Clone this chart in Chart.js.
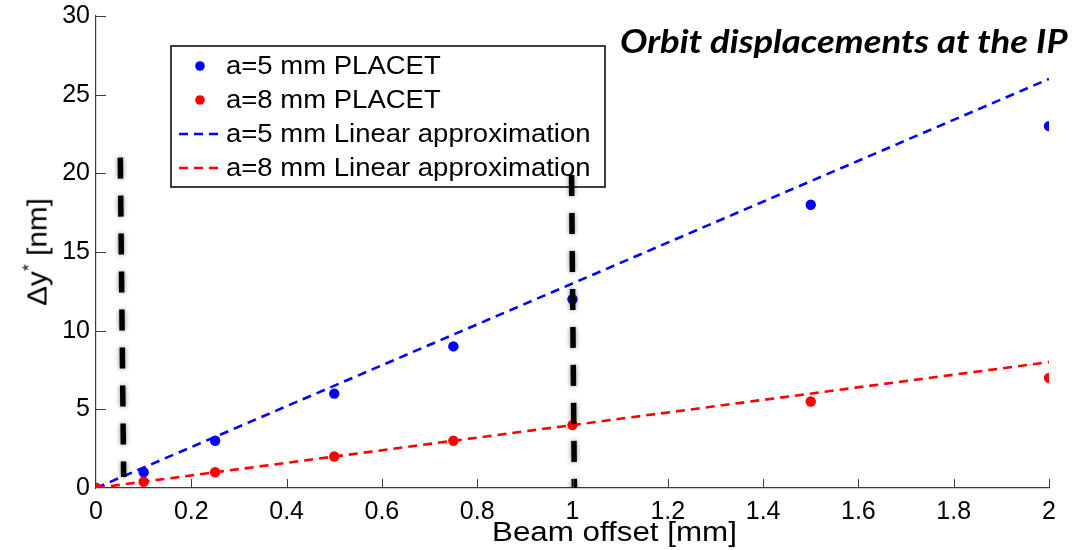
<!DOCTYPE html>
<html>
<head>
<meta charset="utf-8">
<script src="https://cdn.jsdelivr.net/npm/chart.js@4.4.1/dist/chart.umd.min.js"></script>
<style>
  html, body { margin: 0; padding: 0; background: #fff; }
  #wrap { position: relative; width: 1086px; height: 550px; font-family: 'Liberation Sans', Arial, sans-serif; color: #000; }
  #chart { position: absolute; left: 0; top: 0; }
  .plot-title { position: absolute; left: 620px; top: 21px; font: italic 700 32px Lato, 'Open Sans', sans-serif; white-space: nowrap; transform-origin: 0 0; transform: scaleX(1.14); }
  .x-title { position: absolute; left: 492px; top: 519px; font-size: 27px; line-height: 1; white-space: nowrap; transform-origin: 0 0; transform: scaleX(1.16); }
  .y-title { position: absolute; left: 38px; top: 252px; transform: translate(-50%, -50%) rotate(-90deg) scaleX(1.1); font-size: 27px; line-height: 1; white-space: nowrap; }
  .y-title sup { font-size: 60%; vertical-align: 0.75em; line-height: 0; }
</style>
</head>
<body>
<div id="wrap">
  <canvas id="chart" width="1086" height="550"></canvas>
  <div class="plot-title">Orbit displacements at the IP</div>
  <div class="x-title">Beam offset [mm]</div>
  <div class="y-title">Δy<sup>*</sup> [nm]</div>
</div>
<script>
// beam offset [mm] and vertical orbit shift at the IP [nm]
const offsets = [0, 0.1, 0.25, 0.5, 0.75, 1, 1.5, 2];
const placetA5 = [0, 1, 3, 6, 9, 12, 18, 23];
const placetA8 = [0, 0.4, 1, 2, 3, 4, 5.5, 7];

// linear approximation end points
const fitX = [0, 2];
const fitA5 = [0, 26];
const fitA8 = [0, 8];

// hand-drawn markers (vertical dashed guides)
const guide1X = [0.051, 0.058];
const guide1Y = [21, 0.7];
const guide2X = [0.998, 1.004];
const guide2Y = [19.9, -0.2];

const legendLabels = [
  'a=5 mm PLACET',
  'a=8 mm PLACET',
  'a=5 mm Linear approximation',
  'a=8 mm Linear approximation'
];

const BLUE = '#0000ff';
const RED = '#ff0000';
const AXIS = '#3a3a3a';
const FONT = "'Liberation Sans', Arial, sans-serif";

function pairs(xs, ys) {
  return xs.map((x, i) => ({ x, y: ys[i] }));
}

function guide(xs, ys) {
  return {
    type: 'line',
    data: pairs(xs, ys),
    borderColor: '#000',
    borderWidth: 5.5,
    borderDash: [21, 17],
    pointRadius: 0,
    showLine: true,
    shadow: true
  };
}

function fitLine(ys, color) {
  return {
    type: 'line',
    data: pairs(fitX, ys),
    borderColor: color,
    borderWidth: 2.6,
    borderDash: [9, 6],
    pointRadius: 0,
    showLine: true
  };
}

function markers(ys, color) {
  return {
    type: 'scatter',
    data: pairs(offsets, ys),
    backgroundColor: color,
    borderColor: color,
    borderWidth: 0,
    pointRadius: 5.2
  };
}

// soft halo under the thick guides
const shadowPlugin = {
  id: 'guideShadow',
  beforeDatasetDraw(chart, args) {
    if (!args.meta._dataset.shadow) return;
    const ctx = chart.ctx;
    ctx.save();
    ctx.shadowColor = 'rgba(0,0,0,0.45)';
    ctx.shadowBlur = 5;
  },
  afterDatasetDraw(chart, args) {
    if (!args.meta._dataset.shadow) return;
    chart.ctx.restore();
  }
};

// inward tick marks on both axes
const innerTicks = {
  id: 'innerTicks',
  afterDraw(chart) {
    const { ctx, chartArea: a, scales: { x, y } } = chart;
    ctx.save();
    ctx.strokeStyle = AXIS;
    ctx.lineWidth = 1;
    ctx.beginPath();
    x.ticks.forEach((t) => {
      const px = Math.round(x.getPixelForValue(t.value)) + 0.5;
      if (t.value === 0) return;
      ctx.moveTo(px, a.bottom);
      ctx.lineTo(px, a.bottom - 9);
    });
    y.ticks.forEach((t) => {
      const py = Math.round(y.getPixelForValue(t.value)) + 0.5;
      if (t.value === 0) return;
      ctx.moveTo(a.left, py);
      ctx.lineTo(a.left + 10, py);
    });
    ctx.stroke();
    ctx.restore();
  }
};

// boxed legend inside the plot, under the guides
const boxLegend = {
  id: 'boxLegend',
  beforeDatasetsDraw(chart) {
    const ctx = chart.ctx;
    const box = { left: 171, top: 46, right: 605, bottom: 187 };
    const rows = [66, 100, 134, 168];
    ctx.save();
    ctx.fillStyle = '#fff';
    ctx.fillRect(box.left, box.top, box.right - box.left, box.bottom - box.top);
    ctx.strokeStyle = '#000';
    ctx.lineWidth = 1.5;
    ctx.strokeRect(box.left, box.top, box.right - box.left, box.bottom - box.top);

    const kinds = [['dot', BLUE], ['dot', RED], ['dash', BLUE], ['dash', RED]];
    kinds.forEach(([kind, color], i) => {
      const y = rows[i];
      if (kind === 'dot') {
        ctx.fillStyle = color;
        ctx.beginPath();
        ctx.arc(200, y, 4.8, 0, Math.PI * 2);
        ctx.fill();
      } else {
        ctx.strokeStyle = color;
        ctx.lineWidth = 2.6;
        ctx.setLineDash([9, 6]);
        ctx.beginPath();
        ctx.moveTo(179, y);
        ctx.lineTo(222, y);
        ctx.stroke();
        ctx.setLineDash([]);
      }
      // labels are a touch wider than plain Liberation Sans
      ctx.save();
      ctx.translate(226, y + 1);
      ctx.scale(1.1, 1);
      ctx.fillStyle = '#000';
      ctx.font = `25px ${FONT}`;
      ctx.textBaseline = 'middle';
      ctx.fillText(legendLabels[i], 0, 0);
      ctx.restore();
    });
    ctx.restore();
  }
};

new Chart(document.getElementById('chart'), {
  type: 'scatter',
  data: {
    datasets: [
      guide(guide1X, guide1Y),
      guide(guide2X, guide2Y),
      markers(placetA8, RED),
      markers(placetA5, BLUE),
      fitLine(fitA8, RED),
      fitLine(fitA5, BLUE)
    ]
  },
  options: {
    responsive: false,
    animation: false,
    layout: { padding: { left: 0, right: 37, top: 16, bottom: 0 } },
    plugins: { legend: { display: false }, tooltip: { enabled: false } },
    scales: {
      x: {
        type: 'linear',
        min: 0,
        max: 2,
        afterFit(scale) { scale.height = 62; },
        border: { display: true, color: AXIS, width: 1.2 },
        grid: { display: false, drawTicks: false },
        ticks: {
          stepSize: 0.2,
          padding: 9,
          color: '#000',
          font: { family: FONT, size: 25 },
          maxRotation: 0,
          callback: (v) => String(Math.round(v * 10) / 10)
        }
      },
      y: {
        type: 'linear',
        min: 0,
        max: 30,
        afterFit(scale) {
          scale.width = 96;
          // label overhang is covered by the layout padding
          scale.paddingTop = 0;
          scale.paddingBottom = 0;
        },
        border: { display: true, color: AXIS, width: 1.2 },
        grid: { display: false, drawTicks: false },
        ticks: {
          stepSize: 5,
          padding: 6,
          color: '#000',
          font: { family: FONT, size: 25, lineHeight: 1 }
        }
      }
    }
  },
  plugins: [shadowPlugin, innerTicks, boxLegend]
});
</script>
</body>
</html>
